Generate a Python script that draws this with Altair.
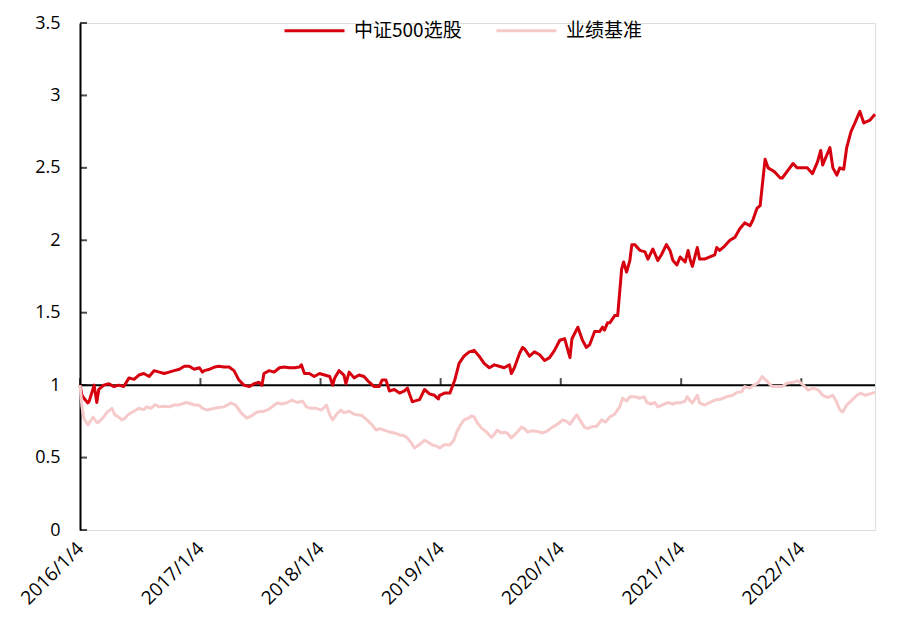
import altair as alt
import pandas as pd

# ---- 中证500选股 ----
red_dates = [
    "2016-01-04","2016-01-10","2016-01-16","2016-01-28","2016-02-01","2016-02-16","2016-02-24","2016-03-01",
    "2016-03-16","2016-04-01","2016-04-16","2016-05-01","2016-05-16","2016-06-01","2016-06-16","2016-07-01",
    "2016-07-16","2016-08-01","2016-08-16","2016-09-01","2016-09-16","2016-10-01","2016-10-16","2016-11-01",
    "2016-11-16","2016-12-01","2016-12-16","2017-01-01","2017-01-10","2017-01-16","2017-02-01","2017-02-16",
    "2017-03-01","2017-03-16","2017-04-01","2017-04-16","2017-05-01","2017-05-16","2017-06-01","2017-06-16",
    "2017-07-01","2017-07-10","2017-07-16","2017-08-01","2017-08-16","2017-09-01","2017-09-16","2017-10-01",
    "2017-10-16","2017-11-01","2017-11-07","2017-11-16","2017-12-01","2017-12-16","2018-01-01","2018-01-16",
    "2018-02-01","2018-02-10","2018-02-16","2018-03-01","2018-03-16","2018-03-22","2018-04-01","2018-04-16",
    "2018-05-01","2018-05-16","2018-06-01","2018-06-16","2018-07-01","2018-07-10","2018-07-22","2018-08-01",
    "2018-08-16","2018-09-01","2018-09-16","2018-09-25","2018-10-01","2018-10-10","2018-10-16","2018-11-01",
    "2018-11-16","2018-12-01","2018-12-16","2018-12-28","2019-01-01","2019-01-16","2019-02-01","2019-02-16",
    "2019-03-01","2019-03-16","2019-04-01","2019-04-16","2019-05-01","2019-05-16","2019-06-01","2019-06-16",
    "2019-07-01","2019-07-16","2019-08-01","2019-08-07","2019-08-16","2019-09-01","2019-09-10","2019-09-16",
    "2019-10-01","2019-10-16","2019-11-01","2019-11-16","2019-12-01","2019-12-16","2020-01-01","2020-01-16",
    "2020-02-01","2020-02-07","2020-02-16","2020-02-25","2020-03-10","2020-03-22","2020-04-01","2020-04-16",
    "2020-05-01","2020-05-10","2020-05-16","2020-05-25","2020-06-01","2020-06-16","2020-06-25","2020-07-07",
    "2020-07-13","2020-07-22","2020-08-01","2020-08-07","2020-08-16","2020-09-01","2020-09-16","2020-09-25",
    "2020-10-10","2020-10-25","2020-11-05","2020-11-20","2020-12-01","2020-12-10","2020-12-22","2021-01-01",
    "2021-01-16","2021-01-25","2021-02-01","2021-02-07","2021-02-22","2021-03-01","2021-03-16","2021-04-01",
    "2021-04-16","2021-04-22","2021-05-01","2021-05-16","2021-06-01","2021-06-16","2021-07-01","2021-07-16",
    "2021-08-01","2021-08-10","2021-08-22","2021-09-01","2021-09-16","2021-09-25","2021-10-10","2021-10-16",
    "2021-11-01","2021-11-07","2021-11-25","2021-12-10","2021-12-22","2022-01-01","2022-01-22","2022-02-07",
    "2022-02-22","2022-03-04","2022-03-10","2022-03-19","2022-04-01","2022-04-10","2022-04-22","2022-05-01",
    "2022-05-13","2022-05-22","2022-06-04","2022-06-16","2022-07-01","2022-07-13","2022-08-01","2022-08-16",
]
red_values = [
    1.00,0.93,0.91,0.877,0.89,1.00,0.88,0.97,
    1.00,1.01,0.99,1.00,0.99,1.05,1.04,1.07,
    1.08,1.06,1.10,1.09,1.08,1.09,1.10,1.11,
    1.13,1.13,1.11,1.12,1.09,1.10,1.11,1.125,
    1.13,1.125,1.125,1.10,1.035,1.00,0.99,1.01,
    1.02,1.00,1.08,1.10,1.09,1.12,1.125,1.12,
    1.12,1.125,1.14,1.08,1.08,1.06,1.08,1.07,
    1.06,1.00,1.05,1.10,1.07,1.01,1.09,1.05,
    1.07,1.06,1.02,0.99,0.99,1.035,1.035,0.96,
    0.97,0.945,0.96,0.98,0.94,0.885,0.89,0.90,
    0.97,0.94,0.93,0.905,0.93,0.945,0.945,1.035,
    1.15,1.20,1.23,1.24,1.20,1.15,1.12,1.14,
    1.13,1.12,1.14,1.08,1.12,1.22,1.26,1.25,
    1.20,1.23,1.21,1.17,1.19,1.24,1.31,1.32,
    1.19,1.32,1.36,1.40,1.31,1.26,1.28,1.37,
    1.37,1.40,1.38,1.43,1.43,1.48,1.48,1.80,
    1.85,1.78,1.86,1.97,1.97,1.93,1.92,1.87,
    1.94,1.86,1.90,1.97,1.93,1.86,1.83,1.885,
    1.85,1.93,1.86,1.82,1.95,1.87,1.87,1.885,
    1.90,1.95,1.93,1.96,2.00,2.02,2.08,2.12,
    2.10,2.14,2.22,2.24,2.56,2.50,2.48,2.47,
    2.43,2.43,2.485,2.53,2.50,2.50,2.50,2.46,
    2.54,2.62,2.52,2.57,2.64,2.50,2.45,2.50,
    2.49,2.64,2.75,2.81,2.89,2.81,2.83,2.87,
]

# ---- 业绩基准 ----
bench_dates = [
    "2016-01-04","2016-01-10","2016-01-16","2016-01-28","2016-02-01","2016-02-13","2016-02-25","2016-03-01",
    "2016-03-16","2016-03-25","2016-04-10","2016-04-19","2016-05-01","2016-05-10","2016-05-19","2016-05-28",
    "2016-06-16","2016-07-01","2016-07-16","2016-07-25","2016-08-07","2016-08-19","2016-09-01","2016-09-16",
    "2016-10-01","2016-10-16","2016-11-01","2016-11-22","2016-12-16","2017-01-01","2017-01-10","2017-01-25",
    "2017-02-16","2017-03-01","2017-03-16","2017-04-07","2017-04-22","2017-05-07","2017-05-25","2017-06-10",
    "2017-06-25","2017-07-16","2017-08-01","2017-08-25","2017-09-10","2017-09-25","2017-10-10","2017-10-25",
    "2017-11-10","2017-11-22","2017-12-07","2017-12-22","2018-01-07","2018-01-22","2018-02-01","2018-02-10",
    "2018-02-22","2018-03-07","2018-03-16","2018-04-01","2018-04-16","2018-04-25","2018-05-10","2018-05-25",
    "2018-06-10","2018-06-22","2018-07-01","2018-07-16","2018-08-01","2018-08-16","2018-09-01","2018-09-16",
    "2018-09-25","2018-10-07","2018-10-16","2018-11-01","2018-11-16","2018-12-01","2018-12-10","2018-12-22",
    "2019-01-01","2019-01-16","2019-02-01","2019-02-13","2019-02-22","2019-03-04","2019-03-16","2019-03-28",
    "2019-04-07","2019-04-16","2019-04-25","2019-05-10","2019-05-22","2019-06-07","2019-06-16","2019-06-25",
    "2019-07-07","2019-07-16","2019-07-25","2019-08-07","2019-08-22","2019-09-07","2019-09-16","2019-09-25",
    "2019-10-10","2019-10-25","2019-11-10","2019-11-25","2019-12-10","2019-12-25","2020-01-10","2020-01-22",
    "2020-02-01","2020-02-13","2020-02-22","2020-03-01","2020-03-16","2020-03-25","2020-04-10","2020-04-22",
    "2020-05-07","2020-05-19","2020-06-01","2020-06-16","2020-07-01","2020-07-10","2020-07-22","2020-08-01",
    "2020-08-16","2020-09-01","2020-09-13","2020-09-22","2020-10-04","2020-10-16","2020-10-25","2020-11-10",
    "2020-11-25","2020-12-10","2020-12-22","2021-01-01","2021-01-16","2021-01-22","2021-02-01","2021-02-07",
    "2021-02-22","2021-03-01","2021-03-16","2021-04-01","2021-04-16","2021-05-07","2021-05-22","2021-06-10",
    "2021-06-22","2021-07-07","2021-07-16","2021-08-01","2021-08-10","2021-08-25","2021-09-07","2021-09-16",
    "2021-09-25","2021-10-07","2021-10-22","2021-11-07","2021-11-22","2021-12-10","2021-12-25","2022-01-10",
    "2022-01-25","2022-02-10","2022-02-25","2022-03-10","2022-03-25","2022-04-10","2022-04-22","2022-05-01",
    "2022-05-10","2022-05-22","2022-06-07","2022-06-22","2022-07-04","2022-07-16","2022-08-01","2022-08-16",
]
bench_values = [
    1.00,0.85,0.77,0.725,0.74,0.78,0.74,0.745,
    0.78,0.81,0.84,0.795,0.78,0.76,0.77,0.795,
    0.82,0.84,0.83,0.85,0.84,0.865,0.85,0.855,
    0.85,0.863,0.865,0.88,0.865,0.86,0.84,0.828,
    0.84,0.845,0.85,0.877,0.86,0.81,0.773,0.79,
    0.815,0.82,0.835,0.877,0.87,0.88,0.897,0.88,
    0.89,0.85,0.84,0.84,0.828,0.863,0.795,0.76,
    0.80,0.828,0.81,0.82,0.80,0.795,0.79,0.76,
    0.725,0.69,0.70,0.69,0.677,0.67,0.656,0.65,
    0.635,0.60,0.566,0.59,0.62,0.60,0.587,0.58,
    0.566,0.59,0.587,0.62,0.677,0.72,0.76,0.77,
    0.787,0.78,0.74,0.70,0.68,0.64,0.66,0.69,
    0.67,0.675,0.67,0.635,0.67,0.71,0.70,0.677,
    0.685,0.68,0.67,0.685,0.71,0.73,0.76,0.75,
    0.73,0.77,0.795,0.765,0.71,0.70,0.715,0.715,
    0.76,0.745,0.78,0.80,0.85,0.91,0.89,0.92,
    0.92,0.91,0.92,0.88,0.87,0.88,0.85,0.865,
    0.88,0.87,0.88,0.877,0.89,0.92,0.89,0.877,
    0.93,0.877,0.863,0.88,0.897,0.905,0.92,0.93,
    0.95,0.955,0.99,0.98,0.995,1.015,1.06,1.04,
    1.02,0.99,0.99,0.99,1.015,1.02,1.03,1.00,
    0.966,0.98,0.966,0.93,0.915,0.93,0.88,0.83,
    0.815,0.863,0.897,0.93,0.945,0.93,0.94,0.95,
]

year_ticks = ["2016-01-04","2017-01-04","2018-01-04","2019-01-04",
              "2020-01-04","2021-01-04","2022-01-04"]
y_ticks = [0, 0.5, 1, 1.5, 2, 2.5, 3, 3.5]

series_names = ["中证500选股", "业绩基准"]
series_colors = ["#d7000f", "#f6caca"]

df = pd.concat([
    pd.DataFrame({"date": red_dates, "value": red_values, "series": series_names[0]}),
    pd.DataFrame({"date": bench_dates, "value": bench_values, "series": series_names[1]}),
])

x_domain = [alt.DateTime(year=2016, month=1, date=4), alt.DateTime(year=2022, month=8, date=16)]
x_scale = alt.Scale(domain=x_domain, nice=False)
y_scale = alt.Scale(domain=[0, 3.5], nice=False)

tick_font = "Open Sans"

x_enc = alt.X("date:T", scale=x_scale, title=None,
              axis=alt.Axis(values=[alt.DateTime(year=int(d[:4]), month=1, date=4) for d in year_ticks],
                            format="%Y/%-m/%-d", labelAngle=-45, labelAlign="right",
                            labelBaseline="middle", labelPadding=15, domain=False, ticks=False,
                            grid=False, labelFont=tick_font, labelFontSize=19,
                            labelColor="#000000", labelOverlap=False))
y_enc = alt.Y("value:Q", scale=y_scale, title=None,
              axis=alt.Axis(values=y_ticks, format="~g", domain=True, domainColor="#000000",
                            domainWidth=2, ticks=False, grid=False, labelPadding=20,
                            labelFont=tick_font, labelFontSize=18, labelColor="#000000"))

lines = alt.Chart(df).mark_line(strokeWidth=3, strokeJoin="round").encode(
    x=x_enc,
    y=y_enc,
    color=alt.Color("series:N",
                    scale=alt.Scale(domain=series_names, range=series_colors),
                    sort=series_names,
                    legend=alt.Legend(title=None, orient="none", direction="horizontal",
                                      legendX=203, legendY=-24, symbolType="stroke",
                                      symbolSize=3600, symbolStrokeWidth=3,
                                      labelFont="Noto Sans CJK SC", labelFontSize=19,
                                      labelColor="#000000", labelOffset=8, columnPadding=28,
                                      labelLimit=300)),
    order=alt.Order("date:T"),
)

base_line = alt.Chart(pd.DataFrame({"v": [1]})).mark_rule(color="#000000", strokeWidth=2).encode(
    y=alt.Y("v:Q", scale=y_scale)
)

xticks = alt.Chart(pd.DataFrame({"date": year_ticks, "v": [1] * len(year_ticks)})).mark_tick(
    orient="vertical", color="#000000", size=7, thickness=2, yOffset=-3.5
).encode(x=alt.X("date:T", scale=x_scale), y=alt.Y("v:Q", scale=y_scale))

yticks = alt.Chart(pd.DataFrame({"v": y_ticks})).mark_tick(
    orient="horizontal", color="#000000", size=7, thickness=2, xOffset=3.5
).encode(y=alt.Y("v:Q", scale=y_scale), x=alt.value(0))

chart = alt.layer(base_line, xticks, yticks, lines).properties(
    width=795, height=507,
    autosize=alt.AutoSizeParams(type="none"),
    padding={"left": 72, "top": 15, "right": 30, "bottom": 85},
).configure_view(stroke=None).configure(background="#ffffff")

chart.save("out.html", embed_options={"renderer": "svg", "actions": False})
